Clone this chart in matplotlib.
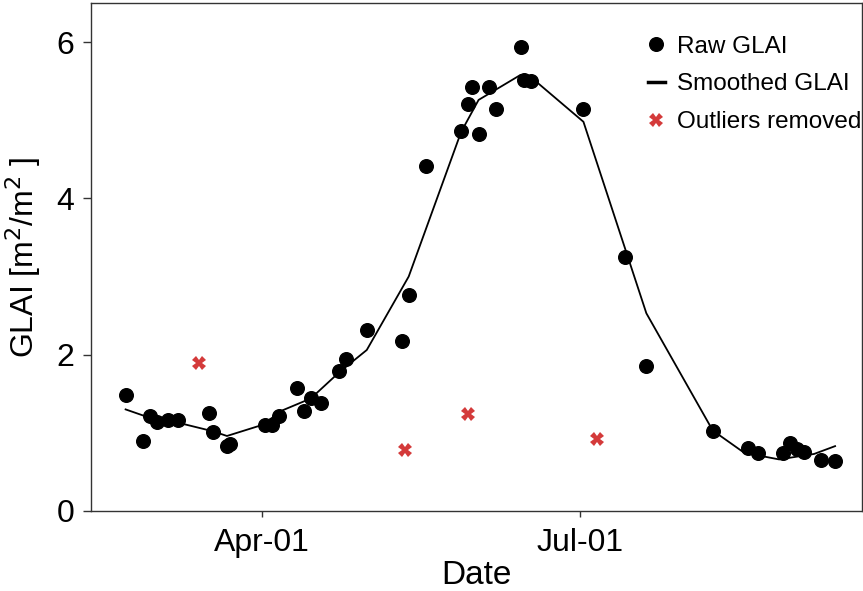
import matplotlib
matplotlib.use("Agg")
import matplotlib.pyplot as plt
import matplotlib.dates as mdates
import pandas as pd

plt.rcParams['font.family'] = ['Liberation Sans', 'DejaVu Sans']

raw_dates = ['2019-02-21', '2019-02-26', '2019-02-28', '2019-03-02', '2019-03-05',
             '2019-03-08', '2019-03-17', '2019-03-18', '2019-03-22', '2019-03-23',
             '2019-04-02', '2019-04-04', '2019-04-06', '2019-04-11', '2019-04-13',
             '2019-04-15', '2019-04-18', '2019-04-23', '2019-04-25', '2019-05-01',
             '2019-05-11', '2019-05-13', '2019-05-18', '2019-05-28', '2019-05-30',
             '2019-05-31', '2019-06-02', '2019-06-05', '2019-06-07', '2019-06-14',
             '2019-06-15', '2019-06-17', '2019-07-02', '2019-07-14', '2019-07-20',
             '2019-08-08', '2019-08-18', '2019-08-21', '2019-08-28', '2019-08-30',
             '2019-09-01', '2019-09-03', '2019-09-08', '2019-09-12']
raw_glai = [1.48, 0.90, 1.21, 1.14, 1.16,
            1.16, 1.26, 1.01, 0.83, 0.86,
            1.10, 1.10, 1.215, 1.57, 1.28,
            1.44, 1.385, 1.795, 1.95, 2.31,
            2.17, 2.76, 4.41, 4.865, 5.21,
            5.42, 4.82, 5.42, 5.15, 5.94,
            5.52, 5.505, 5.15, 3.25, 1.85,
            1.03, 0.81, 0.745, 0.74, 0.865,
            0.79, 0.76, 0.65, 0.645]

smooth_dates = ['2019-02-21', '2019-03-02', '2019-03-08', '2019-03-18', '2019-03-22',
                '2019-04-01', '2019-04-07', '2019-04-15', '2019-04-23', '2019-05-01',
                '2019-05-13', '2019-05-28', '2019-06-02', '2019-06-14', '2019-06-17',
                '2019-07-02', '2019-07-20', '2019-08-08', '2019-08-17', '2019-08-27',
                '2019-09-06', '2019-09-12']
smooth_glai = [1.30, 1.16, 1.13, 1.02, 0.96,
               1.10, 1.29, 1.44, 1.77, 2.06,
               3.00, 4.85, 5.26, 5.58, 5.55,
               4.98, 2.53, 1.03, 0.745, 0.66,
               0.73, 0.83]

outlier_dates = ['2019-03-14', '2019-05-12', '2019-05-30', '2019-07-06']
outlier_glai = [1.89, 0.78, 1.24, 0.92]

raw_x = pd.to_datetime(raw_dates)
smooth_x = pd.to_datetime(smooth_dates)
out_x = pd.to_datetime(outlier_dates)

fig = plt.figure(figsize=(8.63, 5.91), dpi=100)
ax = fig.add_axes([91/863, 1 - 511/591, (862 - 91)/863, (511 - 3)/591])

ax.plot(raw_x, raw_glai, 'o', color='black', markersize=9.8, label='Raw GLAI', zorder=3)
ax.plot(smooth_x, smooth_glai, '-', color='black', linewidth=1.3, label='Smoothed GLAI', zorder=2)
ax.plot(out_x, outlier_glai, 'X', color='#d43a3a', markersize=9.5, markeredgewidth=0,
        label='Outliers removed', zorder=3)

apr1 = pd.Timestamp('2019-04-01')
ax.set_xlim(apr1 - pd.Timedelta(days=48.9), apr1 + pd.Timedelta(days=171.7))
ax.set_ylim(0, 6.5)
ax.set_yticks([0, 2, 4, 6])
ax.xaxis.set_major_locator(mdates.MonthLocator(bymonth=[4, 7]))
ax.xaxis.set_major_formatter(mdates.DateFormatter('%b-%d'))

for s in ['left', 'bottom', 'top', 'right']:
    ax.spines[s].set_color('#333333')
    ax.spines[s].set_linewidth(1.0)
ax.tick_params(axis='both', labelsize=23, color='#333333', length=6, width=1)
ax.tick_params(axis='x', length=4, pad=8)
ax.tick_params(axis='y', pad=6)

ax.set_xlabel('Date', fontsize=24, labelpad=2)
ax.set_ylabel('GLAI [m$^2$/m$^2$ ]', fontsize=23, labelpad=10)

leg = ax.legend(loc='upper right', frameon=False, fontsize=17.5, handlelength=0.7,
                handletextpad=0.5, borderaxespad=0.0, labelspacing=0.65,
                bbox_to_anchor=(1.012, 0.955))
leg.get_lines()[1].set_linewidth(2.5)

fig.savefig('out.png', dpi=100)
